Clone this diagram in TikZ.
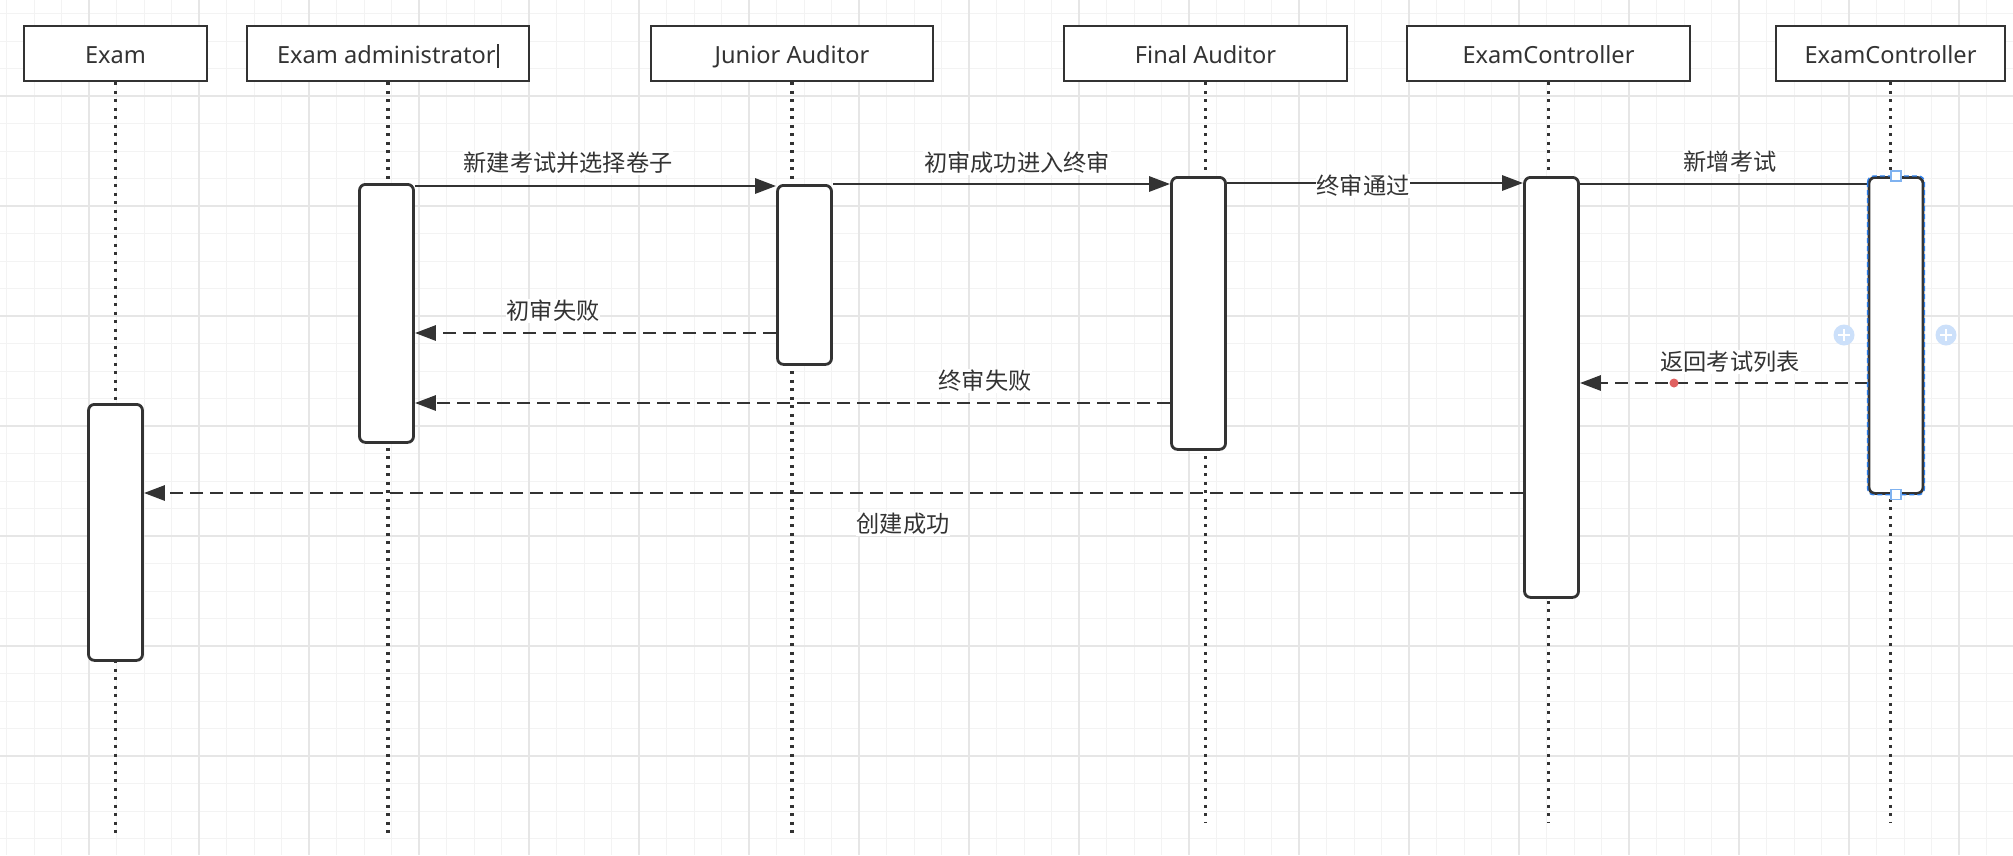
\documentclass[tikz,border=0pt]{standalone}
\usepackage{fontspec}
\setmainfont{Noto Sans}
\newfontfamily\cjk{Noto Sans CJK SC}
\usetikzlibrary{arrows.meta}
\definecolor{ink}{HTML}{333333}
\definecolor{gridminor}{HTML}{F3F3F3}
\definecolor{gridmajor}{HTML}{E6E6E6}
\definecolor{selblue}{HTML}{2B7DE9}
\definecolor{handleblue}{HTML}{7FB2F0}
\definecolor{plusblue}{HTML}{CCE0FA}
\definecolor{reddot}{HTML}{E06060}
\begin{document}
\begin{tikzpicture}[x=1pt,y=-1pt,
  head/.style={draw=ink, line width=2.8pt, fill=white, minimum width=#1, minimum height=55pt, inner sep=0pt, text height=20pt, text depth=0pt, text=ink, font=\fontsize{23.6}{28}\selectfont},
  act/.style={draw=ink, line width=2.8pt, fill=white, rounded corners=6pt, minimum width=54pt, minimum height=#1, anchor=north, inner sep=0pt},
  life/.style={draw=ink, line width=3.2pt, dash pattern=on 3pt off 5.5pt},
  msg/.style={draw=ink, line width=2.9pt, -{Triangle[length=21pt,width=15pt]}},
  plain/.style={draw=ink, line width=2.9pt},
  ret/.style={msg, dash pattern=on 13pt off 7pt},
  lbl/.style={fill=white, text=ink, inner sep=1pt, font=\cjk\fontsize{23.2}{28}\selectfont},
  handle/.style={draw=handleblue, fill=white, line width=1.3pt, minimum size=10pt, inner sep=0pt},
  plusdot/.style={circle, fill=plusblue, minimum size=21pt, inner sep=0pt},
]
\useasboundingbox (0,0) rectangle (2013,855);
\fill[white] (0,0) rectangle (2013,855);
% grid
\foreach \i in {0,...,73} {\draw[gridminor, line width=1pt] ({6.5+27.5*\i},0) -- ++(0,855);}
\foreach \i in {0,...,30} {\draw[gridminor, line width=1pt] (0,{13.5+27.5*\i}) -- ++(2013,0);}
\foreach \i in {0,...,17} {\draw[gridmajor, line width=1.6pt] ({89+110*\i},0) -- ++(0,855);}
\foreach \i in {0,...,6} {\draw[gridmajor, line width=1.6pt] (0,{96+110*\i}) -- ++(2013,0);}

% headers
\node[head=183pt] (hExam) at (115.5,53.5) {Exam};
\node[head=282pt] (hAdm) at (388,53.5) {Exam administrator\kern1.5pt\rule[-4pt]{1.8pt}{24pt}};
\node[head=282pt] (hJun) at (792,53.5) {Junior Auditor};
\node[head=283pt] (hFin) at (1205.5,53.5) {Final Auditor};
\node[head=283pt] (hEC1) at (1548.5,53.5) {ExamController};
\node[head=229pt] (hEC2) at (1890.5,53.5) {ExamController};

% lifelines
\coordinate (endA) at (0,833);
\coordinate (endB) at (0,822);
\draw[life] (hExam.south) -- (hExam.south |- endA);
\draw[life] (hAdm.south) -- (hAdm.south |- endA);
\draw[life] (hJun.south) -- (hJun.south |- endA);
\draw[life] (hFin.south) -- (hFin.south |- endB);
\draw[life] (hEC1.south) -- (hEC1.south |- endB);
\draw[life] (hEC2.south) -- (hEC2.south |- endB);

% activation boxes
\node[act=256pt] (aExam) at (115.5,403) {};
\node[act=258pt] (aAdm) at (386.5,183) {};
\node[act=179pt] (aJun) at (804.5,184) {};
\node[act=272pt] (aFin) at (1198.5,176) {};
\node[act=420pt] (aEC1) at (1551.5,176) {};
\node[act=316pt] (aEC2) at (1896,176) {};

% messages
\coordinate (y1) at (0,186);
\coordinate (y2) at (0,184);
\coordinate (y3) at (0,183);
\coordinate (y4) at (0,184);
\coordinate (y5) at (0,333);
\coordinate (y6) at (0,383);
\coordinate (y7) at (0,403);
\coordinate (y8) at (0,493);
\draw[msg] (aAdm.east |- y1) -- (aJun.west |- y1);
\draw[msg] (aJun.east |- y2) -- (aFin.west |- y2);
\draw[msg] (aFin.east |- y3) -- (aEC1.west |- y3);
\draw[plain] (aEC1.east |- y4) -- (aEC2.west |- y4);
\draw[ret] (aJun.west |- y5) -- (aAdm.east |- y5);
\draw[ret] (aEC2.west |- y6) -- (aEC1.east |- y6);
\draw[ret] (aFin.west |- y7) -- (aAdm.east |- y7);
\draw[ret] (aEC1.west |- y8) -- (aExam.east |- y8);

% labels
\node[lbl] (l1) at (568,163) {新建考试并选择卷子};
\node[lbl] (l2) at (1017,163) {初审成功进入终审};
\node[lbl] (l3) at (1363,186) {终审通过};
\node[lbl] (l4) at (1730,162) {新增考试};
\node[lbl] (l5) at (553,311) {初审失败};
\node[lbl] (l6) at (1730,362) {返回考试列表};
\node[lbl] (l7) at (985,381) {终审失败};
\node[lbl] (l8) at (903,524) {创建成功};

% selection overlay
\draw[selblue, line width=1.3pt, dash pattern=on 5pt off 3pt, rounded corners=6pt] (aEC2.north west) rectangle (aEC2.south east);
\node[handle] (hdT) at (aEC2.north) {};
\node[handle] (hdB) at (aEC2.south) {};
\node[plusdot] (pL) at (1844,335) {};
\node[plusdot] (pR) at (1946,335) {};
\foreach \p in {pL,pR} {
  \draw[white, line width=1.8pt] ([xshift=-6pt]\p.center) -- ([xshift=6pt]\p.center);
  \draw[white, line width=1.8pt] ([yshift=-6pt]\p.center) -- ([yshift=6pt]\p.center);
}
\fill[reddot] (1674,383) circle (4.5pt);
\end{tikzpicture}
\end{document}
